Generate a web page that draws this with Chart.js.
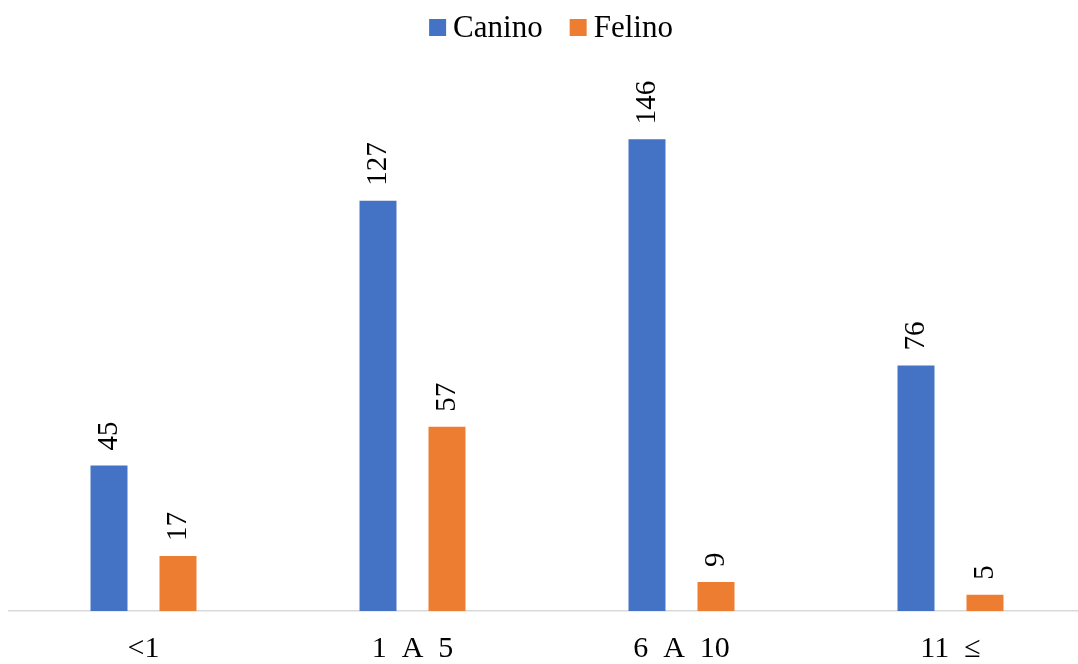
<!DOCTYPE html>
<html>
<head>
<meta charset="utf-8">
<script src="https://cdn.jsdelivr.net/npm/chart.js@4.4.0/dist/chart.umd.min.js"></script>
<style>
  html, body { margin: 0; padding: 0; background: #ffffff; overflow: hidden; }
  #wrap { width: 1092px; height: 664px; }
</style>
</head>
<body>
<div id="wrap"><canvas id="c" width="1092" height="664"></canvas></div>
<script>
// Age groups (years) and number of patients per species
const categories = ['<1', '1  A  5', '6  A  10', '11  ≤'];
const caninoValues = [45, 127, 146, 76];
const felinoValues = [17, 57, 9, 5];
const seriesNames = ['Canino', 'Felino'];
const seriesColors = ['#4472C4', '#ED7D31'];

const serif = "'Liberation Serif', 'Times New Roman', serif";

// Value labels, rotated to read bottom-to-top above each bar
const barValueLabels = {
  id: 'barValueLabels',
  afterDatasetsDraw(chart) {
    const ctx = chart.ctx;
    ctx.save();
    ctx.fillStyle = '#000000';
    ctx.font = '29px ' + serif;
    ctx.textAlign = 'left';
    ctx.textBaseline = 'middle';
    chart.data.datasets.forEach((ds, di) => {
      const meta = chart.getDatasetMeta(di);
      meta.data.forEach((bar, i) => {
        ctx.save();
        ctx.translate(bar.x, bar.y - 15);
        ctx.rotate(-Math.PI / 2);
        ctx.fillText(String(ds.data[i]), 0, 0);
        ctx.restore();
      });
    });
    ctx.restore();
  }
};

// Compact legend at the top: square swatch, short gap, series name
const topLegend = {
  id: 'topLegend',
  afterDraw(chart) {
    const ctx = chart.ctx;
    const box = 17, gapText = 7, gapItem = 27, center = 551, baseline = 37;
    ctx.save();
    ctx.font = '31px ' + serif;
    ctx.textBaseline = 'alphabetic';
    ctx.textAlign = 'left';
    const items = chart.data.datasets.map(ds => ({
      label: ds.label, color: ds.backgroundColor, w: ctx.measureText(ds.label).width
    }));
    let total = items.reduce((s, it) => s + box + gapText + it.w, 0) + gapItem * (items.length - 1);
    let x = center - total / 2;
    items.forEach(it => {
      ctx.fillStyle = it.color;
      ctx.fillRect(x, 19, box, box);
      x += box + gapText;
      ctx.fillStyle = '#000000';
      ctx.fillText(it.label, x, baseline);
      x += it.w + gapItem;
    });
    ctx.restore();
  }
};

new Chart(document.getElementById('c'), {
  type: 'bar',
  data: {
    labels: categories,
    datasets: [
      { label: seriesNames[0], data: caninoValues, backgroundColor: seriesColors[0] },
      { label: seriesNames[1], data: felinoValues, backgroundColor: seriesColors[1] }
    ]
  },
  options: {
    responsive: false,
    animation: false,
    devicePixelRatio: 1,
    layout: { padding: { left: 9, right: 7, top: 94, bottom: -23 } },
    datasets: { bar: { categoryPercentage: 0.513, barPercentage: 0.536 } },
    plugins: { legend: { display: false }, tooltip: { enabled: false } },
    scales: {
      x: {
        grid: { display: false, drawTicks: false },
        border: { display: true, color: '#d9d9d9', width: 1.5 },
        ticks: {
          color: '#000000',
          font: { family: serif, size: 30, lineHeight: 1.0 },
          padding: 23,
          maxRotation: 0,
          autoSkip: false
        }
      },
      y: { display: false, min: 0, max: 160 }
    }
  },
  plugins: [barValueLabels, topLegend]
});
</script>
</body>
</html>
